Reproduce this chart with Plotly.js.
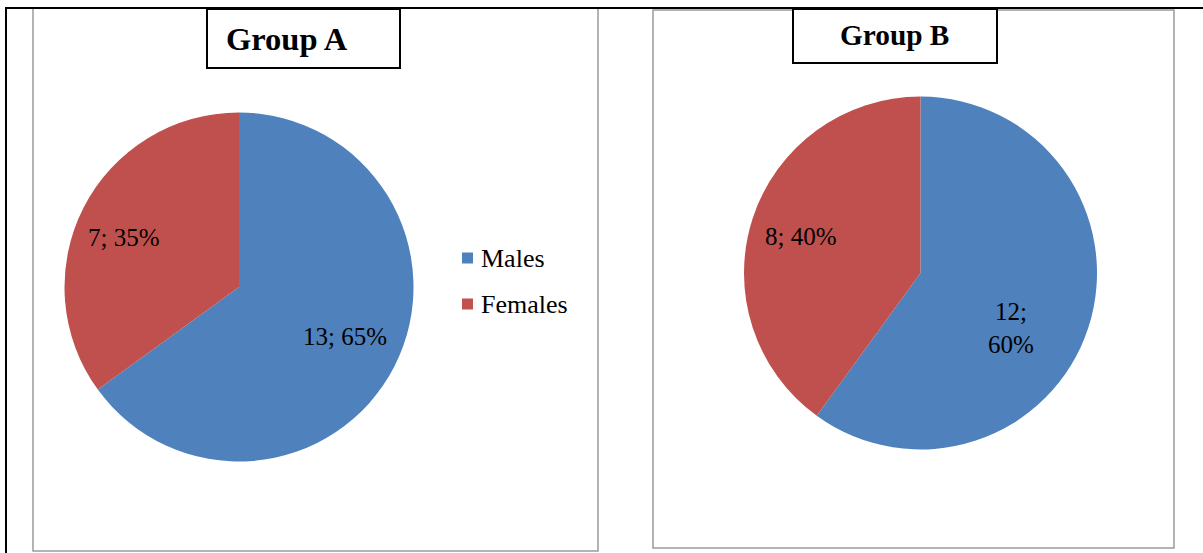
<!DOCTYPE html>
<html>
<head>
<meta charset="utf-8">
<script src="https://cdn.plot.ly/plotly-3.0.1.min.js"></script>
<style>
  html, body { margin: 0; padding: 0; background: #ffffff; }
  #chart { width: 1203px; height: 553px; }
</style>
</head>
<body>
<div id="chart"></div>
<script>
// Gender split of the two study groups
const categories = ['Males', 'Females'];
const groupA = [13, 7];
const groupB = [12, 8];
const groupTitles = ['Group A', 'Group B'];
const sliceColors = ['#4F81BD', '#C0504D'];

const W = 1203, H = 553;
const SERIF = 'Liberation Serif, Times New Roman, serif';
const px = x => x / W;
const py = y => 1 - y / H;

// Panel geometry in pixels; label placement is radial fraction + angle nudge (deg)
const panels = [
  { values: groupA, title: groupTitles[0], cx: 239, cy: 287, r: 174.5,
    frame: [33, 8, 598, 551], titleBox: [207, 9, 400, 68],
    titleSize: 32.5, titleX: 287, titleY: 39,
    labelRadius: [0.673, 0.72], labelNudge: [-2, -3.8], wrap: [false, false] },
  { values: groupB, title: groupTitles[1], cx: 920.5, cy: 273, r: 176.5,
    frame: [653, 10, 1174, 548], titleBox: [793, 9, 997, 63],
    titleSize: 29.3, titleX: 894, titleY: 35,
    labelRadius: [0.6, 0.711], labelNudge: [13.3, -0.9], wrap: [true, false] }
];

const traces = [];
const shapes = [];
const annotations = [];

panels.forEach(p => {
  // chart area frame
  shapes.push({ type: 'rect', xref: 'paper', yref: 'paper', layer: 'below',
    x0: px(p.frame[0]), x1: px(p.frame[2]), y0: py(p.frame[3]), y1: py(p.frame[1]),
    line: { color: '#9a9a9a', width: 1.5 }, fillcolor: 'rgba(0,0,0,0)' });

  traces.push({
    type: 'pie',
    labels: categories,
    values: p.values,
    sort: false,
    direction: 'clockwise',
    rotation: 0,
    textinfo: 'none',
    hoverinfo: 'label+value+percent',
    showlegend: false,
    marker: { colors: sliceColors, line: { width: 0 } },
    domain: { x: [px(p.cx - p.r), px(p.cx + p.r)], y: [py(p.cy + p.r), py(p.cy - p.r)] }
  });

  // data labels "value; percent" placed near each slice's mid-angle
  const total = p.values.reduce((a, b) => a + b, 0);
  let acc = 0;
  p.values.forEach((v, i) => {
    const mid = (acc + v / 2) / total * 2 * Math.PI + p.labelNudge[i] * Math.PI / 180;
    acc += v;
    const d = p.labelRadius[i] * p.r;
    const x = p.cx + d * Math.sin(mid);
    const y = p.cy - d * Math.cos(mid);
    const pct = Math.round(v / total * 100);
    annotations.push({ xref: 'paper', yref: 'paper', x: px(x), y: py(y),
      xanchor: 'center', yanchor: 'middle',
      text: v + ';' + (p.wrap[i] ? '<br>' : ' ') + pct + '%', showarrow: false,
      font: { family: SERIF, size: 25, color: '#000000' } });
  });

  // title box
  const tb = p.titleBox;
  shapes.push({ type: 'rect', xref: 'paper', yref: 'paper',
    x0: px(tb[0]), x1: px(tb[2]), y0: py(tb[3]), y1: py(tb[1]),
    line: { color: '#000000', width: 2 }, fillcolor: '#ffffff' });
  annotations.push({ xref: 'paper', yref: 'paper',
    x: px(p.titleX), y: py(p.titleY),
    xanchor: 'center', yanchor: 'middle',
    text: '<b>' + p.title + '</b>', showarrow: false,
    font: { family: SERIF, size: p.titleSize, color: '#000000' } });
});

// legend beside the first pie
categories.forEach((c, i) => {
  const yc = 258 + i * 46;
  shapes.push({ type: 'rect', xref: 'paper', yref: 'paper',
    x0: px(462), x1: px(473), y0: py(yc + 5.5), y1: py(yc - 5.5),
    line: { width: 0 }, fillcolor: sliceColors[i] });
  annotations.push({ xref: 'paper', yref: 'paper', x: px(479), y: py(yc),
    xanchor: 'left', yanchor: 'middle', text: c, showarrow: false,
    font: { family: SERIF, size: 26, color: '#000000' } });
});

// outer table rules
shapes.push({ type: 'line', xref: 'paper', yref: 'paper',
  x0: px(5), x1: px(1203), y0: py(8), y1: py(8), line: { color: '#000000', width: 2 } });
shapes.push({ type: 'line', xref: 'paper', yref: 'paper',
  x0: px(6), x1: px(6), y0: py(8), y1: py(553), line: { color: '#000000', width: 2 } });

Plotly.newPlot('chart', traces, {
  width: W, height: H,
  margin: { l: 0, r: 0, t: 0, b: 0 },
  paper_bgcolor: '#ffffff',
  showlegend: false,
  shapes: shapes,
  annotations: annotations
}, { staticPlot: true });
</script>
</body>
</html>
